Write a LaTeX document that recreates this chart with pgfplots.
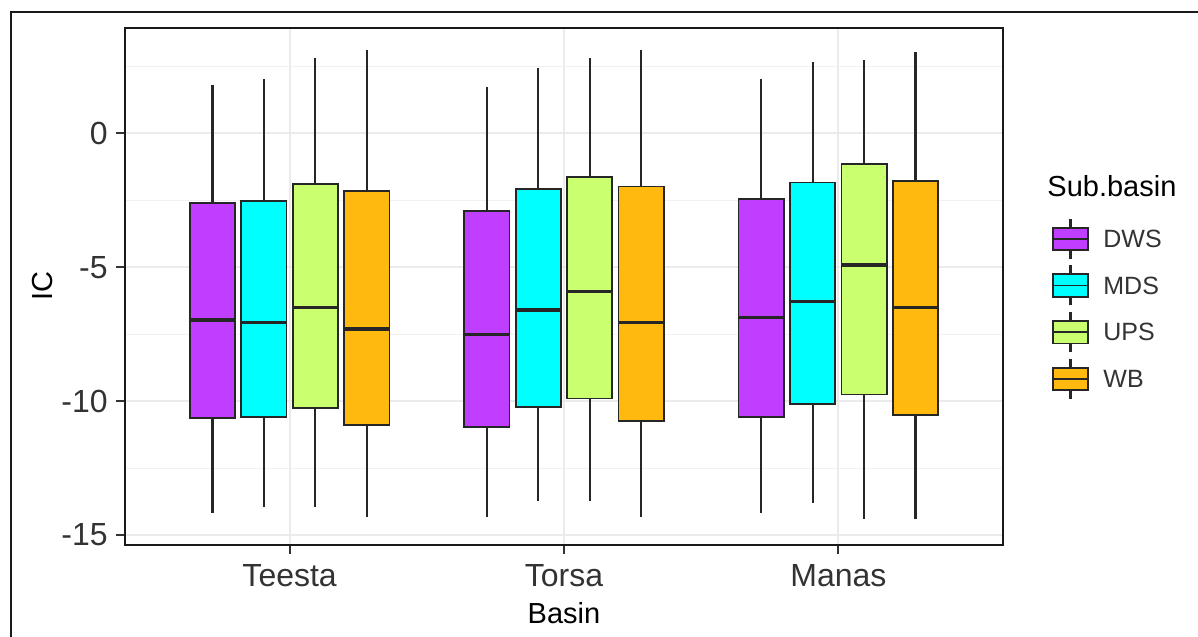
\documentclass[border=0pt]{standalone}
\usepackage{pgfplots}
\pgfplotsset{compat=1.18}
\usepgfplotslibrary{statistics}
\usepackage{fontspec}
\setmainfont{Liberation Sans}
\definecolor{cDWS}{RGB}{191,62,255}
\definecolor{cMDS}{RGB}{0,255,255}
\definecolor{cUPS}{RGB}{202,255,112}
\definecolor{cWB}{RGB}{255,185,15}
\definecolor{gridc}{RGB}{235,235,235}
\definecolor{txt}{RGB}{51,51,51}
\pgfplotsset{
  bx/.style={boxplot prepared={box extend=0.165, whisker extend=0, draw direction=y, #1},
    draw=black!85, line width=0.9bp,
    boxplot/every whisker/.style={line width=1.1bp},
    boxplot/every median/.style={line width=1.7bp}},
}
\begin{document}
\begin{tikzpicture}
\useasboundingbox (0,0) rectangle (599bp,318.5bp);
\draw[line width=1bp, black!90] (5.5bp,-2bp) -- (5.5bp,312.5bp) -- (602bp,312.5bp);
\begin{axis}[
  at={(62.5bp,46bp)}, anchor=south west,
  scale only axis, width=439bp, height=258.5bp,
  xmin=0.4, xmax=3.6, ymin=-15.37, ymax=3.93,
  xtick={1,2,3}, xticklabels={Teesta,Torsa,Manas},
  ytick={-15,-10,-5,0}, yticklabels={-15,-10,-5,0},
  minor ytick={-12.5,-7.5,-2.5,2.5},
  grid=both,
  major grid style={gridc, line width=0.9bp},
  minor grid style={gridc!70!white, line width=0.5bp},
  minor tick length=0pt,
  tick align=outside, major tick length=4.5bp,
  tick style={line width=0.9bp, black!80},
  xtick pos=bottom, ytick pos=left,
  axis line style={line width=1bp, black!90},
  ticklabel style={font=\fontsize{16bp}{19bp}\selectfont, text=txt},
  yticklabel style={anchor=east, inner sep=0pt, xshift=-4bp},
  xticklabel style={anchor=base, inner sep=0pt, yshift=-16bp},
  xlabel={Basin}, ylabel={IC},
  label style={font=\fontsize{14.5bp}{17bp}\selectfont, text=black},
  xlabel style={at={(axis description cs:0.5,-0.1509)}, anchor=base, inner sep=0pt},
  ylabel style={at={(axis description cs:-0.0945,0.5)}, anchor=center, inner sep=0pt},
]
% Teesta
\addplot[bx={draw position=0.71875, lower whisker=-14.17, lower quartile=-10.64, median=-6.97, upper quartile=-2.59, upper whisker=1.80}, fill=cDWS] coordinates {};
\addplot[bx={draw position=0.90625, lower whisker=-13.95, lower quartile=-10.58, median=-7.06, upper quartile=-2.53, upper whisker=2.04}, fill=cMDS] coordinates {};
\addplot[bx={draw position=1.09375, lower whisker=-13.95, lower quartile=-10.27, median=-6.50, upper quartile=-1.89, upper whisker=2.80}, fill=cUPS] coordinates {};
\addplot[bx={draw position=1.28125, lower whisker=-14.32, lower quartile=-10.88, median=-7.31, upper quartile=-2.17, upper whisker=3.11}, fill=cWB] coordinates {};
% Torsa
\addplot[bx={draw position=1.71875, lower whisker=-14.32, lower quartile=-10.96, median=-7.51, upper quartile=-2.90, upper whisker=1.74}, fill=cDWS] coordinates {};
\addplot[bx={draw position=1.90625, lower whisker=-13.72, lower quartile=-10.21, median=-6.59, upper quartile=-2.08, upper whisker=2.43}, fill=cMDS] coordinates {};
\addplot[bx={draw position=2.09375, lower whisker=-13.72, lower quartile=-9.90, median=-5.91, upper quartile=-1.62, upper whisker=2.80}, fill=cUPS] coordinates {};
\addplot[bx={draw position=2.28125, lower whisker=-14.32, lower quartile=-10.73, median=-7.06, upper quartile=-1.99, upper whisker=3.11}, fill=cWB] coordinates {};
% Manas
\addplot[bx={draw position=2.71875, lower whisker=-14.17, lower quartile=-10.58, median=-6.87, upper quartile=-2.45, upper whisker=2.04}, fill=cDWS] coordinates {};
\addplot[bx={draw position=2.90625, lower whisker=-13.79, lower quartile=-10.12, median=-6.29, upper quartile=-1.84, upper whisker=2.66}, fill=cMDS] coordinates {};
\addplot[bx={draw position=3.09375, lower whisker=-14.40, lower quartile=-9.75, median=-4.92, upper quartile=-1.16, upper whisker=2.74}, fill=cUPS] coordinates {};
\addplot[bx={draw position=3.28125, lower whisker=-14.40, lower quartile=-10.52, median=-6.50, upper quartile=-1.78, upper whisker=3.02}, fill=cWB] coordinates {};
\end{axis}
% legend
\node[anchor=base west, inner sep=0pt, font=\fontsize{14.5bp}{17bp}\selectfont] at (523.5bp,220.2bp) {Sub.basin};
\foreach \c/\lab/\y in {cDWS/DWS/199, cMDS/MDS/175.75, cUPS/UPS/152.35, cWB/WB/129}{
  \draw[line width=1.1bp, black!85] (535.25bp,\y bp-10bp) -- (535.25bp,\y bp+10bp);
  \draw[line width=0.9bp, black!85, fill=\c] (526.5bp,\y bp-5.6bp) rectangle (544bp,\y bp+5.6bp);
  \draw[line width=0.9bp, black!85] (526.5bp,\y bp) -- (544bp,\y bp);
  \node[anchor=west, inner sep=0pt, font=\fontsize{12.5bp}{14bp}\selectfont, text=txt] at (551.5bp,\y bp) {\lab};
}
\end{tikzpicture}
\end{document}
